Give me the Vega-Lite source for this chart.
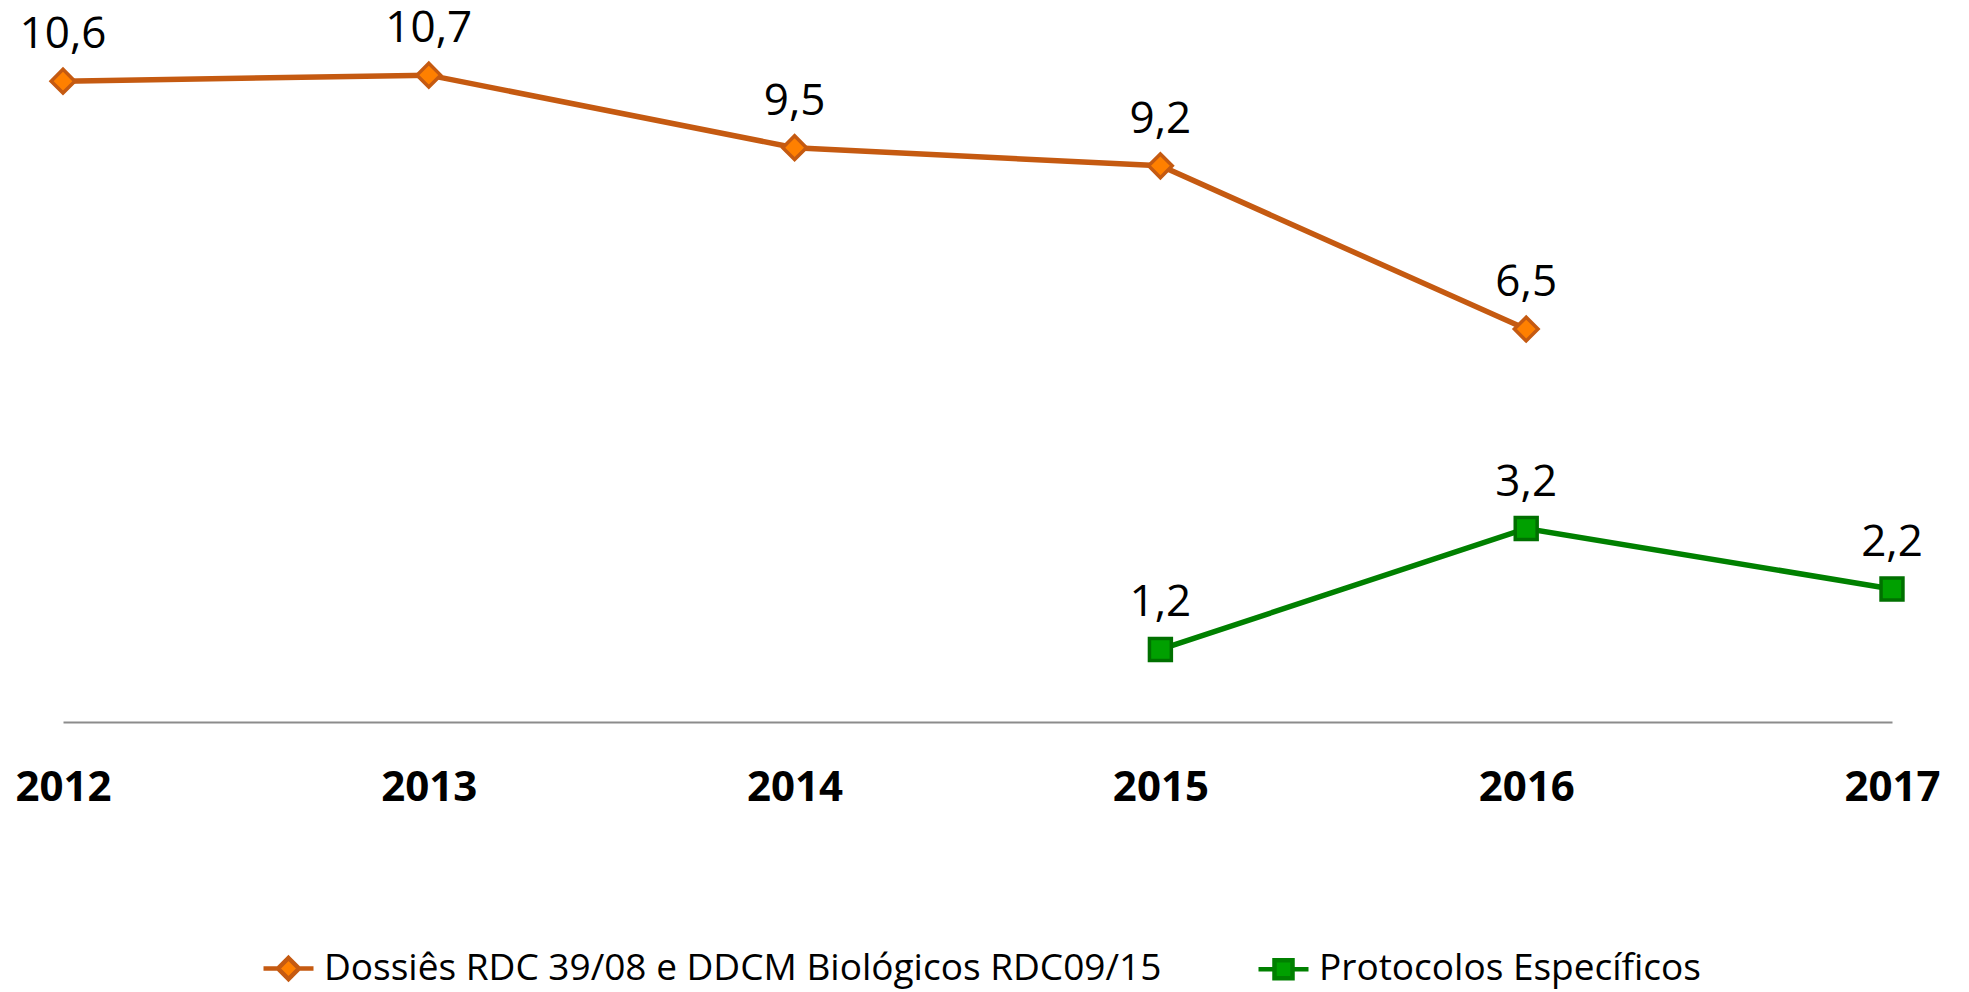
{
  "$schema": "https://vega.github.io/schema/vega-lite/v6.json",
  "width": 1829,
  "height": 665,
  "autosize": {"type": "none"},
  "padding": {"left": 63, "top": 57, "right": 77, "bottom": 270},
  "background": "white",
  "config": {
    "view": {"stroke": null},
    "font": "Open Sans",
    "locale": {"number": {"decimal": ",", "thousands": ".", "grouping": [3], "currency": ["R$", ""]}}
  },
  "data": {
    "values": [
      {"year": "2012", "series": "Dossiês RDC 39/08 e DDCM Biológicos RDC09/15", "value": 10.6},
      {"year": "2013", "series": "Dossiês RDC 39/08 e DDCM Biológicos RDC09/15", "value": 10.7},
      {"year": "2014", "series": "Dossiês RDC 39/08 e DDCM Biológicos RDC09/15", "value": 9.5},
      {"year": "2015", "series": "Dossiês RDC 39/08 e DDCM Biológicos RDC09/15", "value": 9.2},
      {"year": "2016", "series": "Dossiês RDC 39/08 e DDCM Biológicos RDC09/15", "value": 6.5},
      {"year": "2015", "series": "Protocolos Específicos", "value": 1.2},
      {"year": "2016", "series": "Protocolos Específicos", "value": 3.2},
      {"year": "2017", "series": "Protocolos Específicos", "value": 2.2}
    ]
  },
  "encoding": {
    "x": {
      "field": "year", "type": "ordinal",
      "scale": {"type": "point", "padding": 0, "domain": ["2012", "2013", "2014", "2015", "2016", "2017"]},
      "axis": {
        "title": null, "ticks": false, "tickSize": 0, "grid": false,
        "domainColor": "#8C8C8C", "domainWidth": 2,
        "labelFont": "Open Sans", "labelFontWeight": "bold", "labelFontSize": 42, "labelColor": "black",
        "labelAngle": 0, "labelBaseline": "alphabetic", "labelPadding": 78, "labelOverlap": false
      }
    },
    "y": {
      "field": "value", "type": "quantitative",
      "scale": {"domain": [0, 11], "nice": false, "zero": true},
      "axis": null
    }
  },
  "layer": [
    {
      "mark": {"type": "line", "strokeWidth": 5.5},
      "encoding": {
        "color": {
          "field": "series", "type": "nominal",
          "scale": {"domain": ["Dossiês RDC 39/08 e DDCM Biológicos RDC09/15", "Protocolos Específicos"], "range": ["#C55A11", "#008000"]},
          "legend": {
            "title": null, "orient": "none", "direction": "horizontal",
            "legendX": 198, "legendY": 884,
            "symbolSize": 2500, "symbolStrokeWidth": 4.5,
            "labelFont": "Open Sans", "labelFontSize": 37, "labelColor": "black", "labelLimit": 2000,
            "labelOffset": 8, "columnPadding": 87,
            "encode": {
              "symbols": {
                "update": {
                  "shape": [
                    {"test": "datum.value === 'Protocolos Específicos'", "value": "M-1,0H-0.36M0.36,0H1M-0.36,-0.36H0.36V0.36H-0.36Z"},
                    {"value": "M-1,0H-0.42M0.42,0H1M0,-0.42L0.42,0L0,0.42L-0.42,0Z"}
                  ],
                  "fill": [
                    {"test": "datum.value === 'Protocolos Específicos'", "value": "#00A000"},
                    {"value": "#FF8000"}
                  ],
                  "stroke": [
                    {"test": "datum.value === 'Protocolos Específicos'", "value": "#007000"},
                    {"value": "#C55A11"}
                  ],
                  "strokeWidth": {"value": 4.5},
                  "opacity": {"value": 1}
                }
              }
            }
          }
        }
      }
    },
    {
      "transform": [{"filter": "datum.series === 'Dossiês RDC 39/08 e DDCM Biológicos RDC09/15'"}],
      "mark": {"type": "point", "shape": "diamond", "filled": true, "size": 560, "strokeWidth": 3.5, "opacity": 1, "fill": "#FF8000", "stroke": "#C55A11"}
    },
    {
      "transform": [{"filter": "datum.series === 'Protocolos Específicos'"}],
      "mark": {"type": "point", "shape": "square", "filled": true, "size": 480, "strokeWidth": 3.5, "opacity": 1, "fill": "#00A000", "stroke": "#007000"}
    },
    {
      "mark": {"type": "text", "dy": -33, "baseline": "alphabetic", "align": "center", "fontSize": 44, "font": "Open Sans", "color": "black"},
      "encoding": {
        "text": {"field": "value", "type": "quantitative", "format": ".1f"}
      }
    }
  ]
}
